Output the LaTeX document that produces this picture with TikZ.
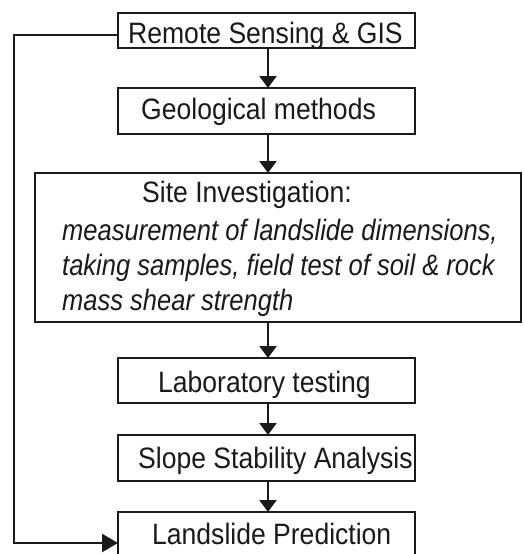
\documentclass[tikz,border=0pt]{standalone}
\usepackage{fontspec}
\setmainfont[FakeStretch=0.9,ItalicFeatures={FakeStretch=0.865}]{Liberation Sans}
\usetikzlibrary{arrows.meta}
\definecolor{ink}{HTML}{1A1A1A}
\begin{document}
\begin{tikzpicture}[x=1pt,y=-1pt,
  box/.style={draw=ink, line width=2.3pt, fill=white},
  lbl/.style={anchor=base west, inner sep=0pt, text=ink, font=\fontsize{29.5}{34}\selectfont},
  ilbl/.style={lbl, font=\fontsize{29.5}{34}\selectfont\itshape},
  flow/.style={line width=2.3pt, draw=ink, -{Triangle[length=12pt,width=17pt]}},
  back/.style={line width=2.3pt, draw=ink, -{Triangle[length=16pt,width=18pt]}}]
\useasboundingbox (0,0) rectangle (523,554);
\clip (0,0) rectangle (523,554);
\fill[white] (0,0) rectangle (523,554);

% boxes of the chain
\path[box] (118,13) rectangle (415,48);
\coordinate (rs-w) at (118,35);
\coordinate (rs-s) at (268,48);
\path[box] (118,88) rectangle (415,134);
\coordinate (geo-n) at (268,88);
\coordinate (geo-s) at (268,134);
\path[box] (35,173) rectangle (521,322);
\coordinate (site-n) at (268,173);
\coordinate (site-s) at (268,322);
\path[box] (118,358) rectangle (415,403);
\coordinate (lab-n) at (268,358);
\coordinate (lab-s) at (268,403);
\path[box] (118,435) rectangle (415,481);
\coordinate (ssa-n) at (268,435);
\coordinate (ssa-s) at (268,481);
\path[box] (118,512) rectangle (415,580);
\coordinate (pred-n) at (268,512);
\coordinate (pred-w) at (118,543);

% labels
\node[lbl] (rs) at (128,43) {Remote Sensing \& GIS};
\node[lbl] (geo) at (141,119) {Geological methods};
\node[lbl] (site) at (142,202) {Site Investigation:};
\node[ilbl] (site1) at (62,240) {measurement of landslide dimensions,};
\node[ilbl] (site2) at (62,275) {taking samples, field test of soil \& rock};
\node[ilbl] (site3) at (62,310) {mass shear strength};
\node[lbl] (lab) at (158,392) {Laboratory testing};
\node[lbl] (ssa) at (138,468) {Slope Stability Analysis};
\node[lbl] (pred) at (152,544) {Landslide Prediction};

% connectors
\draw[flow] (rs-s) -- (geo-n);
\draw[flow] (geo-s) -- (site-n);
\draw[flow] (site-s) -- (lab-n);
\draw[flow] (lab-s) -- (ssa-n);
\draw[flow] (ssa-s) -- (pred-n);
\draw[back] (rs-w) -| (14,543) -- (pred-w);
\end{tikzpicture}
\end{document}
